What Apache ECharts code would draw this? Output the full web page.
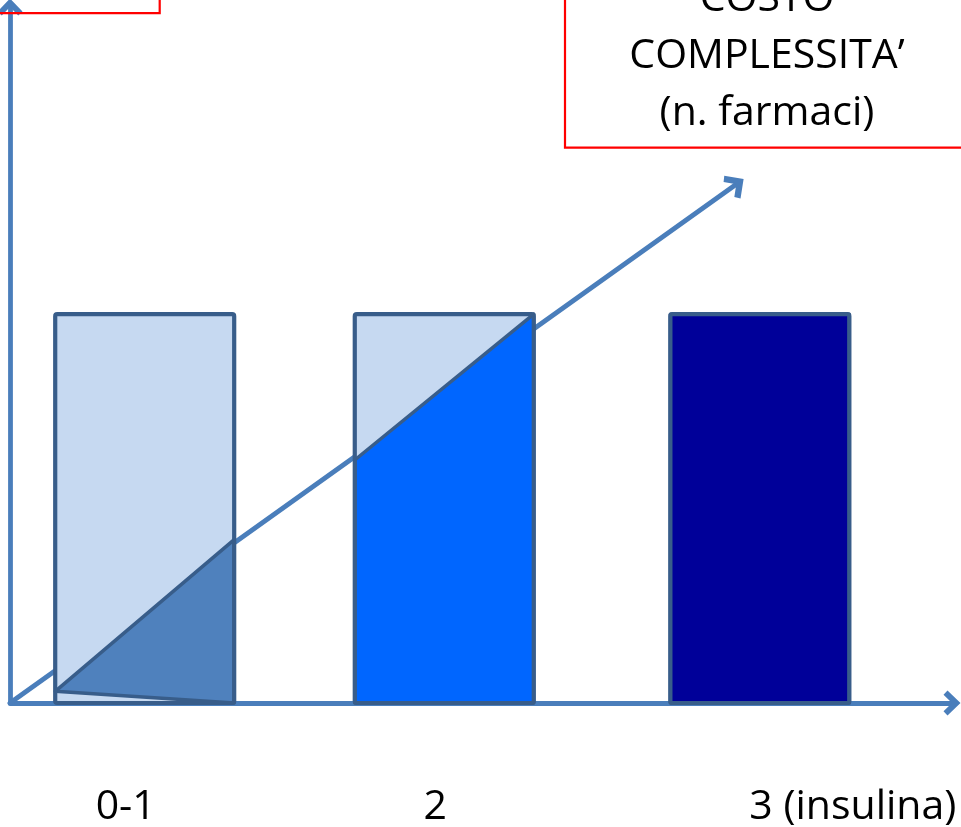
<!DOCTYPE html>
<html>
<head>
<meta charset="utf-8">
<script src="https://cdn.jsdelivr.net/npm/echarts@6/dist/echarts.min.js"></script>
<style>
  html, body { margin: 0; padding: 0; background: #ffffff; }
  #chart { width: 961px; height: 827px; }
</style>
</head>
<body>
<div id="chart"></div>
<script>
// Therapy steps, by number of drugs
const categories = ['0-1', '2', '3 (insulina)'];
// Start and end of each step along the complexity axis
const stepFrom = [4.8, 36.6, 70.1];
const stepTo = [23.8, 55.6, 89.1];
// Full height of each step
const stepHeight = [100, 100, 100];
// Covered part of each step: level at its left edge, at its right edge, and floor at its left edge
const coverLeft = [3, 62.5, 100];
const coverRight = [42, 100, 100];
const coverFloorLeft = [3, 0, 0];
// Cost / complexity trend, drawn from the origin
const trendFrom = [0, 0];
const trendTo = [77.1, 133.4];

const coverColors = ['#4F81BD', '#0066FF', '#000099'];
const emptyColor = '#C6D9F1';
const edgeColor = '#385D8A';
const axisBlue = '#4A7EBB';
const textFont = '"Open Sans", "Noto Sans", sans-serif';
// Open arrow head used at the end of the axes and of the trend line
const chevron = 'path://M50,0 L100,52 L83,68 L50,34 L17,68 L0,52 Z';
// Horizontal shift of each category caption from its step centre (px)
const captionShift = [-19, -9, 93];

const chart = echarts.init(document.getElementById('chart'), null, { renderer: 'canvas' });

const axisCommon = {
  type: 'value',
  axisLine: {
    show: true,
    symbol: ['none', chevron],
    symbolSize: [26, 17],
    lineStyle: { color: axisBlue, width: 4.8, cap: 'round' }
  },
  axisTick: { show: false },
  axisLabel: { show: false },
  splitLine: { show: false }
};

const option = {
  animation: false,
  backgroundColor: '#ffffff',
  grid: { left: 10, right: 9, top: 7, bottom: 124 },
  xAxis: Object.assign({}, axisCommon, { min: 0, max: 100 }),
  yAxis: Object.assign({}, axisCommon, { min: 0, max: 179 }),
  graphic: [
    {
      type: 'rect', z: 10,
      shape: { x: -20, y: -100, width: 179.7, height: 113.2 },
      style: { fill: 'transparent', stroke: '#FF0000', lineWidth: 2.2 }
    },
    {
      type: 'rect', z: 10,
      shape: { x: 565, y: -100, width: 500, height: 247.7 },
      style: { fill: 'transparent', stroke: '#FF0000', lineWidth: 2.2 }
    },
    {
      type: 'text', z: 11, x: 767, y: 56,
      style: {
        text: 'COSTO\nCOMPLESSITA’\n(n. farmaci)',
        fontFamily: textFont, fontSize: 41, lineHeight: 57,
        fill: '#000000', align: 'center', verticalAlign: 'middle'
      }
    }
  ],
  series: [
    {
      type: 'line',
      data: [],
      z: 1,
      markLine: {
        silent: true,
        z: 1,
        symbol: ['none', chevron],
        symbolSize: [28, 18],
        label: { show: false },
        lineStyle: { color: axisBlue, width: 4.8, type: 'solid', cap: 'round' },
        data: [[{ coord: trendFrom }, { coord: trendTo }]]
      }
    },
    {
      type: 'custom',
      z: 3,
      clip: false,
      encode: { x: [0, 1], y: 2 },
      data: categories.map((c, i) => [stepFrom[i], stepTo[i], stepHeight[i], coverLeft[i], coverRight[i], coverFloorLeft[i], i]),
      renderItem: function (params, api) {
        const x0 = api.value(0), x1 = api.value(1), h = api.value(2);
        const cl = api.value(3), cr = api.value(4), cf = api.value(5), i = api.value(6);
        const tl = api.coord([x0, h]);
        const br = api.coord([x1, 0]);
        const box = { x: tl[0], y: tl[1], width: br[0] - tl[0], height: br[1] - tl[1] };
        const cover = [api.coord([x0, cf]), api.coord([x0, cl]), api.coord([x1, cr]), br];
        const mid = api.coord([(x0 + x1) / 2, 0]);
        return {
          type: 'group',
          children: [
            { type: 'rect', shape: box, style: { fill: emptyColor } },
            {
              type: 'polygon', shape: { points: cover },
              style: { fill: coverColors[i], stroke: edgeColor, lineWidth: 3.5, lineJoin: 'round' }
            },
            {
              type: 'rect', shape: Object.assign({ r: 2 }, box),
              style: { fill: 'transparent', stroke: edgeColor, lineWidth: 4.2, lineJoin: 'round' }
            },
            {
              type: 'text',
              x: mid[0] + captionShift[i], y: mid[1] + 104,
              style: {
                text: categories[i], x: 0, y: 0,
                fontFamily: textFont, fontSize: 41,
                fill: '#000000', align: 'center', verticalAlign: 'middle'
              }
            }
          ]
        };
      }
    }
  ]
};

chart.setOption(option);
</script>
</body>
</html>
